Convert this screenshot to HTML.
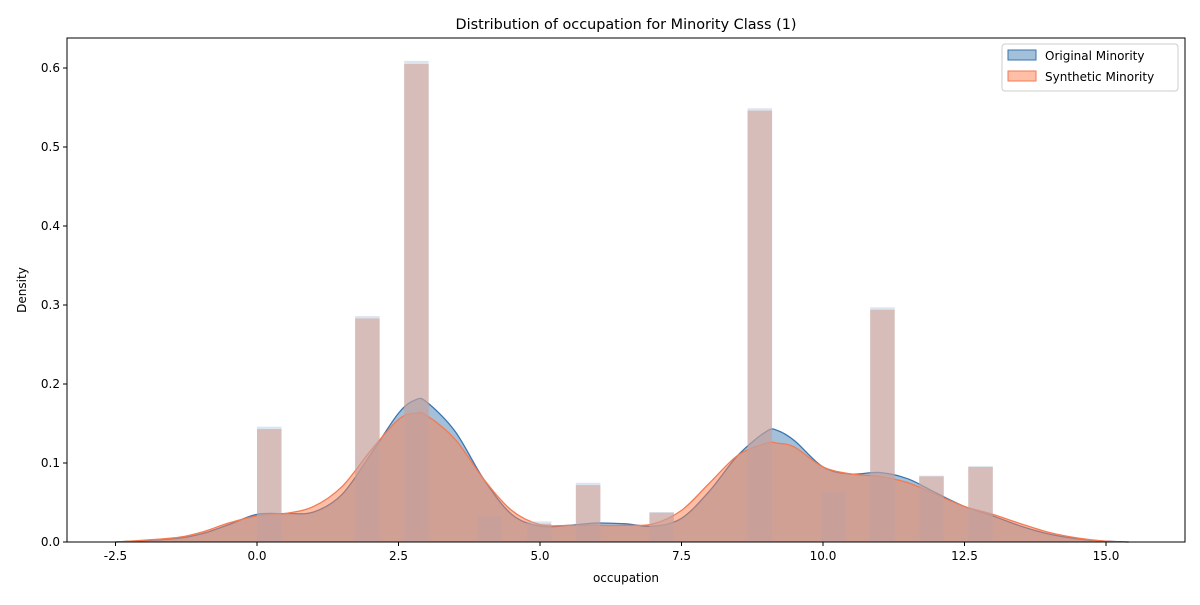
<!DOCTYPE html>
<html><head><meta charset="utf-8"><style>
body{margin:0;background:#fff;font-family:"Liberation Sans","DejaVu Sans",sans-serif}
svg text{font-family:"DejaVu Sans","Liberation Sans",sans-serif;font-size:12px;fill:#000}
</style></head><body>
<svg id="c" width="1200" height="600"></svg>
<script>
const binIdx=[0,4,6,9,11,13,16,20,23,25,27,29];
const origHist=[0.146,0.286,0.609,0.033,0.026,0.075,0.038,0.549,0.064,0.297,0.084,0.096];
const synHist=[0.143,0.283,0.605,0.033,0.023,0.072,0.037,0.546,0.064,0.294,0.083,0.095];
const kdeX=[-2.5,-1.5,-1,-0.5,0,0.5,1,1.5,2,2.5,2.8,3,3.5,4,4.5,5,5.5,6,6.5,7,7.5,8,8.5,9,9.2,9.5,10,10.5,11,11.5,12,12.5,13,13.5,14,14.5,15,15.4];
const origKde=[0,0.004,0.01,0.022,0.035,0.036,0.038,0.06,0.11,0.163,0.18,0.177,0.14,0.08,0.035,0.02,0.021,0.024,0.023,0.02,0.03,0.065,0.11,0.14,0.141,0.128,0.095,0.086,0.088,0.08,0.062,0.045,0.033,0.02,0.01,0.004,0.001,0];
const synKde=[0,0.005,0.012,0.024,0.033,0.036,0.045,0.07,0.115,0.155,0.163,0.16,0.13,0.08,0.04,0.022,0.021,0.021,0.021,0.023,0.04,0.075,0.11,0.125,0.125,0.12,0.095,0.086,0.083,0.075,0.06,0.045,0.035,0.023,0.012,0.005,0.001,0];
const xTicks=[-2.5,0,2.5,5,7.5,10,12.5,15];
const yTicks=[0,0.1,0.2,0.3,0.4,0.5,0.6];
const L=67,R=1185,T=38,B=542;
const X=v=>257+v*56.6, Y=v=>B-v*790;
const binW=13/30;
const svg=document.getElementById('c');const NS='http://www.w3.org/2000/svg';
function mk(t,a,p){const e=document.createElementNS(NS,t);for(const k in a)e.setAttribute(k,a[k]);(p||svg).appendChild(e);return e;}
function smooth(ys){
  const P=kdeX.map((x,i)=>[X(x),Y(ys[i])]);
  let d='M'+P[0][0]+','+P[0][1];
  for(let i=0;i<P.length-1;i++){
    const p0=P[Math.max(0,i-1)],p1=P[i],p2=P[i+1],p3=P[Math.min(P.length-1,i+2)];
    const c1=[p1[0]+(p2[0]-p0[0])/6,p1[1]+(p2[1]-p0[1])/6];
    const c2=[p2[0]-(p3[0]-p1[0])/6,p2[1]-(p3[1]-p1[1])/6];
    d+='C'+Math.min(c1[1],B)*0+c1[0]+','+Math.min(c1[1],B)+' '+c2[0]+','+Math.min(c2[1],B)+' '+p2[0]+','+p2[1];
  }
  return d;
}
function kde(ys,fill,stroke,name){
  const s=smooth(ys);
  const d='M'+X(kdeX[0])+','+B+'L'+s.slice(1)+'L'+X(kdeX[kdeX.length-1])+','+B+'Z';
  const p=mk('path',{d:d,fill:fill,'fill-opacity':0.5,stroke:'none'});
  
  
  const l=mk('path',{d:s,fill:'none',stroke:stroke,'stroke-width':1.3});
  
  
}
kde(origKde,'#4682b4','#3a75b0','original-kde');
kde(synKde,'#ff7f50','#f47a50','synthetic-kde');
function hist(vals,fill,op,name){
  binIdx.forEach((b,i)=>{const x0=X(b*binW),x1=X((b+1)*binW);
    const r=mk('rect',{x:x0,y:Y(vals[i]),width:x1-x0,height:B-Y(vals[i]),fill:fill,'fill-opacity':op});
    
    });
}
hist(origHist,'#a6bcd6',0.4,'original-hist');
hist(synHist,'#d39683',0.5,'synthetic-hist');
mk('rect',{x:L,y:T,width:R-L,height:B-T,fill:'none',stroke:'#000','stroke-width':1});
xTicks.forEach(v=>{mk('line',{x1:X(v),x2:X(v),y1:B,y2:B+4,stroke:'#000'});const t=mk('text',{x:X(v),y:B+18,'text-anchor':'middle'});t.textContent=v.toFixed(1);
  
  });
yTicks.forEach(v=>{mk('line',{x1:L-4,x2:L,y1:Y(v),y2:Y(v),stroke:'#000'});const t=mk('text',{x:L-7,y:Y(v)+4,'text-anchor':'end'});t.textContent=v.toFixed(1);
  
  });
</script>
<svg width="1200" height="600" style="position:absolute;left:0;top:0">
<text x="626" y="29" text-anchor="middle" style="font-size:14.4px">Distribution of occupation for Minority Class (1)</text>
<text x="626" y="582" text-anchor="middle">occupation</text>
<text x="26" y="290" text-anchor="middle" transform="rotate(-90 26 290)">Density</text>
<g>
<rect x="1002" y="44" width="176" height="47" rx="3" fill="#fff" fill-opacity="0.8" stroke="#ccc"/>
<rect x="1008" y="50" width="28" height="10" fill="#4682b4" fill-opacity="0.5" stroke="#3a75b0"/>
<text x="1045" y="60">Original Minority</text>
<rect x="1008" y="71" width="28" height="10" fill="#ff7f50" fill-opacity="0.5" stroke="#f47a50"/>
<text x="1045" y="81">Synthetic Minority</text>
</g>
</svg>
</body></html>
